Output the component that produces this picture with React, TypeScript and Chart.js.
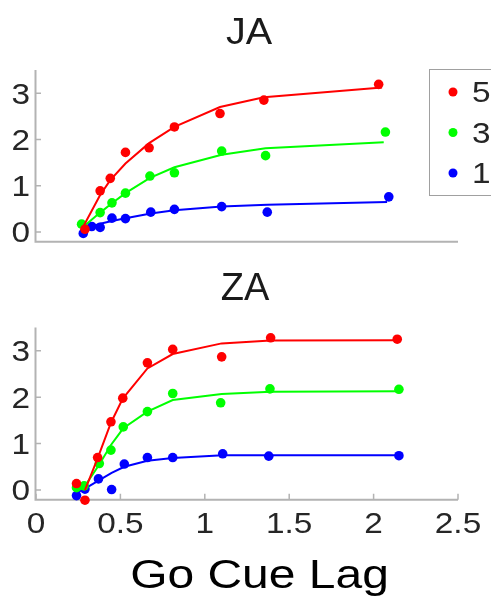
import React, { useEffect, useRef } from "react";
import { Chart, registerables } from "chart.js";

Chart.register(...registerables);

// ---- tick labels / categories ----
const xTicks = [0, 0.5, 1, 1.5, 2, 2.5];
const xTickLabels = ["0", "0.5", "1", "1.5", "2", "2.5"];
const yTicks = [0, 1, 2, 3];
const yTickLabels = ["0", "1", "2", "3"];
const seriesLabels = ["5", "3", "1"];
const seriesColors = ["#ff0000", "#00ff00", "#0000ff"];
const xLabel = "Go Cue Lag";

// ---- JA data ----
const ja5X = [0.29, 0.38, 0.44, 0.53, 0.67, 0.82, 1.09, 1.35, 2.03];
const ja5Y = [0.06, 0.89, 1.16, 1.72, 1.82, 2.27, 2.56, 2.85, 3.19];
const ja5FitX = [0.27, 0.38, 0.44, 0.53, 0.67, 0.82, 1.09, 1.35, 2.05];
const ja5FitY = [0.05, 0.8, 1.12, 1.48, 1.92, 2.27, 2.7, 2.91, 3.12];

const ja3X = [0.27, 0.38, 0.45, 0.53, 0.675, 0.82, 1.1, 1.36, 2.07];
const ja3Y = [0.17, 0.42, 0.63, 0.84, 1.21, 1.28, 1.75, 1.65, 2.16];
const ja3FitX = [0.27, 0.38, 0.45, 0.53, 0.675, 0.82, 1.1, 1.36, 2.06];
const ja3FitY = [0.08, 0.42, 0.62, 0.84, 1.17, 1.4, 1.67, 1.81, 1.94];

const ja1X = [0.28, 0.33, 0.38, 0.45, 0.53, 0.68, 0.82, 1.1, 1.37, 2.09];
const ja1Y = [-0.03, 0.12, 0.1, 0.3, 0.29, 0.43, 0.49, 0.55, 0.43, 0.76];
const ja1FitX = [0.28, 0.33, 0.38, 0.45, 0.53, 0.68, 0.82, 1.1, 1.37, 2.08];
const ja1FitY = [0.03, 0.12, 0.18, 0.24, 0.3, 0.4, 0.47, 0.55, 0.59, 0.65];

// ---- ZA data ----
const za5X = [0.24, 0.29, 0.365, 0.444, 0.514, 0.66, 0.81, 1.1, 1.39, 2.14];
const za5Y = [0.14, -0.22, 0.7, 1.47, 1.98, 2.74, 3.03, 2.87, 3.28, 3.25];
const za5FitX = [0.29, 0.365, 0.444, 0.514, 0.66, 0.81, 1.1, 1.39, 2.14];
const za5FitY = [0.0, 0.68, 1.45, 1.97, 2.62, 2.93, 3.16, 3.22, 3.23];

const za3X = [0.24, 0.285, 0.375, 0.444, 0.517, 0.66, 0.81, 1.094, 1.386, 2.15];
const za3Y = [0.05, 0.09, 0.57, 0.86, 1.36, 1.69, 2.08, 1.88, 2.18, 2.17];
const za3FitX = [0.24, 0.285, 0.375, 0.444, 0.517, 0.66, 0.81, 1.1, 1.39, 2.15];
const za3FitY = [0.02, 0.06, 0.55, 0.97, 1.33, 1.69, 1.94, 2.07, 2.12, 2.13];

const za1X = [0.24, 0.29, 0.37, 0.448, 0.523, 0.66, 0.81, 1.106, 1.379, 2.15];
const za1Y = [-0.12, 0.02, 0.24, 0.01, 0.56, 0.7, 0.7, 0.78, 0.73, 0.74];
const za1FitX = [0.24, 0.29, 0.37, 0.448, 0.523, 0.66, 0.81, 1.106, 1.379, 2.15];
const za1FitY = [-0.06, 0.03, 0.2, 0.37, 0.5, 0.63, 0.69, 0.75, 0.75, 0.75];

const FONT = '"Liberation Sans", Arial, Helvetica, sans-serif';
const AXIS_COLOR = "#b3b3b3";
const TEXT_COLOR = "#262626";

const zip = (xs: number[], ys: number[]) => xs.map((x, i) => ({ x, y: ys[i] }));

function drawText(
  ctx: CanvasRenderingContext2D,
  text: string,
  x: number,
  y: number,
  size: number,
  align: CanvasTextAlign,
  sx: number,
  color: string
) {
  ctx.save();
  ctx.font = `${size}px ${FONT}`;
  ctx.fillStyle = color;
  ctx.textBaseline = "alphabetic";
  ctx.textAlign = align;
  ctx.translate(x, y);
  ctx.scale(sx, 1);
  ctx.fillText(text, 0, 0);
  ctx.restore();
}

type PanelOpts = {
  title: string;
  titleSize: number;
  titleSx: number;
  titleX: number;
  titleBaseline: number;
  xTickMarks: boolean;
  xTickText: boolean;
  legend: boolean;
  xLabelText: boolean;
};

function makePlugin(o: PanelOpts) {
  return {
    id: "matlabAxes",
    beforeDatasetsDraw(chart: any) {
      const ctx: CanvasRenderingContext2D = chart.ctx;
      const xs = chart.scales.x;
      const ys = chart.scales.y;
      const area = chart.chartArea;
      ctx.save();
      ctx.strokeStyle = AXIS_COLOR;
      ctx.lineWidth = 2;
      const axX = area.left - 0.5;
      const axY = area.bottom + 0.5;
      ctx.beginPath();
      ctx.moveTo(axX, area.top);
      ctx.lineTo(axX, axY);
      ctx.lineTo(area.right, axY);
      ctx.stroke();
      ctx.lineWidth = 1.5;
      ctx.beginPath();
      yTicks.forEach((t) => {
        const py = ys.getPixelForValue(t);
        ctx.moveTo(axX, py);
        ctx.lineTo(axX + 5.5, py);
      });
      if (o.xTickMarks) {
        xTicks.forEach((t) => {
          const px = xs.getPixelForValue(t);
          ctx.moveTo(px, axY);
          ctx.lineTo(px, axY - 6);
        });
      }
      ctx.stroke();
      ctx.restore();
    },
    afterDraw(chart: any) {
      const ctx: CanvasRenderingContext2D = chart.ctx;
      const xs = chart.scales.x;
      const ys = chart.scales.y;
      const area = chart.chartArea;
      // y tick labels
      yTicks.forEach((t, i) => {
        const py = ys.getPixelForValue(t);
        drawText(ctx, yTickLabels[i], area.left - 6, py + 10.4, 29, "right", 1.15, TEXT_COLOR);
      });
      if (o.xTickText) {
        xTicks.forEach((t, i) => {
          const px = xs.getPixelForValue(t);
          drawText(ctx, xTickLabels[i], px, area.bottom + 34, 29, "center", 1.15, TEXT_COLOR);
        });
      }
      // title
      drawText(ctx, o.title, o.titleX, o.titleBaseline, o.titleSize, "center", o.titleSx, "#1a1a1a");
      if (o.xLabelText) {
        drawText(ctx, xLabel, 259.5, area.bottom + 88.5, 41, "center", 1.17, "#000000");
      }
      if (o.legend) {
        ctx.save();
        ctx.strokeStyle = "#a0a0a0";
        ctx.lineWidth = 1;
        ctx.fillStyle = "#ffffff";
        ctx.fillRect(429.5, 69.5, 100, 126);
        ctx.strokeRect(429.5, 69.5, 100, 126);
        const rowY = [92, 132.5, 173];
        seriesLabels.forEach((lab, i) => {
          ctx.beginPath();
          ctx.fillStyle = seriesColors[i];
          ctx.arc(453, rowY[i], 4.5, 0, Math.PI * 2);
          ctx.fill();
          drawText(ctx, lab, 472, rowY[i] + 10.4, 29, "left", 1.15, TEXT_COLOR);
        });
        ctx.restore();
      }
    },
  };
}

function buildDatasets(
  pts: { x: number[]; y: number[] }[],
  fits: { x: number[]; y: number[] }[]
) {
  const ds: any[] = [];
  pts.forEach((p, i) => {
    ds.push({
      label: seriesLabels[i] + " fit",
      data: zip(fits[i].x, fits[i].y),
      showLine: true,
      borderColor: seriesColors[i],
      borderWidth: 2,
      pointRadius: 0,
      tension: 0,
      clip: false,
    });
    ds.push({
      label: seriesLabels[i],
      data: zip(p.x, p.y),
      showLine: false,
      backgroundColor: seriesColors[i],
      borderColor: seriesColors[i],
      borderWidth: 0,
      pointRadius: 4.8,
      clip: false,
    });
  });
  return ds;
}

function Panel(props: {
  top: number;
  height: number;
  padding: { left: number; right: number; top: number; bottom: number };
  datasets: any[];
  opts: PanelOpts;
}) {
  const ref = useRef<HTMLCanvasElement | null>(null);
  useEffect(() => {
    if (!ref.current) return;
    const chart = new Chart(ref.current, {
      type: "scatter",
      data: { datasets: props.datasets },
      options: {
        animation: false,
        responsive: false,
        devicePixelRatio: 1,
        layout: { padding: props.padding },
        plugins: { legend: { display: false }, tooltip: { enabled: false }, title: { display: false } },
        scales: {
          x: { type: "linear", min: 0, max: 2.5, display: false },
          y: { type: "linear", min: -0.2, max: 3.5, display: false },
        },
      },
      plugins: [makePlugin(props.opts)],
    } as any);
    return () => chart.destroy();
  }, []);
  return (
    <canvas
      ref={ref}
      width={491}
      height={props.height}
      style={{ position: "absolute", left: 0, top: props.top, width: 491, height: props.height }}
    />
  );
}

export default function App() {
  const jaDatasets = buildDatasets(
    [
      { x: ja5X, y: ja5Y },
      { x: ja3X, y: ja3Y },
      { x: ja1X, y: ja1Y },
    ],
    [
      { x: ja5FitX, y: ja5FitY },
      { x: ja3FitX, y: ja3FitY },
      { x: ja1FitX, y: ja1FitY },
    ]
  );
  const zaDatasets = buildDatasets(
    [
      { x: za5X, y: za5Y },
      { x: za3X, y: za3Y },
      { x: za1X, y: za1Y },
    ],
    [
      { x: za5FitX, y: za5FitY },
      { x: za3FitX, y: za3FitY },
      { x: za1FitX, y: za1FitY },
    ]
  );
  return (
    <div
      style={{
        position: "fixed",
        left: 0,
        top: 0,
        width: 491,
        height: 600,
        background: "#ffffff",
        overflow: "hidden",
      }}
    >
      <Panel
        top={0}
        height={262}
        padding={{ left: 36, right: 33, top: 70, bottom: 262 - 241.3 }}
        datasets={jaDatasets}
        opts={{
          title: "JA",
          titleSize: 36,
          titleSx: 1.1,
          titleX: 249,
          titleBaseline: 44,
          xTickMarks: false,
          xTickText: false,
          legend: true,
          xLabelText: false,
        }}
      />
      <Panel
        top={262}
        height={338}
        padding={{ left: 36, right: 33, top: 327.6 - 262, bottom: 338 - (499.3 - 262) }}
        datasets={zaDatasets}
        opts={{
          title: "ZA",
          titleSize: 38,
          titleSx: 1.0,
          titleX: 245,
          titleBaseline: 300 - 262,
          xTickMarks: true,
          xTickText: true,
          legend: false,
          xLabelText: true,
        }}
      />
    </div>
  );
}
